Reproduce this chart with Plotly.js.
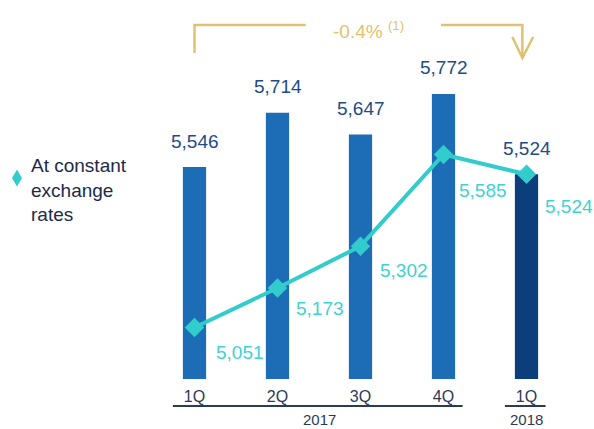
<!DOCTYPE html>
<html><head><meta charset="utf-8">
<script src="https://cdn.plot.ly/plotly-3.0.1.min.js"></script>
<style>html,body{margin:0;padding:0;background:#fff}</style>
</head><body><div id="chart" style="width:594px;height:429px"></div>
<script>
// ---- data ----
const quarters = ['1Q', '2Q', '3Q', '4Q', '1Q'];
const years = ['2017', '2017', '2017', '2017', '2018'];
const reported = [5546, 5714, 5647, 5772, 5524];
const constantFx = [5051, 5173, 5302, 5585, 5524];
const changeText = '-0.4%';
const changeNote = '(1)';
const seriesName = 'At constant<br>exchange<br>rates';

// ---- style / layout helpers ----
const idx = quarters.map((_, i) => i);
const fmt = v => v.toLocaleString('en-US');
const barColors = years.map(y => y === '2018' ? '#0b3e7b' : '#1c6db5');
const teal = '#33cccc';
const gold = '#dfc271';
const navy = '#1d4c88';
const axisInk = '#2b3a56';
const FONT = 'Liberation Sans, Arial, sans-serif';
// label offsets (px right, px down) for the teal values
const lineLabelShift = [[45, 25], [42, 21], [43, 24], [39, 36], [42, 32]];

const barTrace = {
  type: 'bar', x: idx, y: reported, width: 0.28,
  marker: {color: barColors}, showlegend: false, hoverinfo: 'y'
};
const lineTrace = {
  type: 'scatter', mode: 'lines+markers', x: idx, y: constantFx, name: seriesName,
  line: {color: teal, width: 4},
  marker: {symbol: 'diamond', size: 15, color: teal},
  showlegend: false, hoverinfo: 'y'
};

const annotations = [];
reported.forEach((v, i) => annotations.push({
  x: i, y: v, text: fmt(v), showarrow: false, yanchor: 'middle', yshift: 26,
  font: {family: FONT, size: 19, color: navy}
}));
constantFx.forEach((v, i) => annotations.push({
  x: i, y: v, text: fmt(v), showarrow: false, xanchor: 'center', yanchor: 'middle',
  xshift: lineLabelShift[i][0], yshift: -lineLabelShift[i][1],
  font: {family: FONT, size: 19, color: '#3fd2d2'}
}));
// year group labels
const groups = [...new Set(years)].map(y => {
  const members = idx.filter(i => years[i] === y);
  return {year: y, first: members[0], last: members[members.length - 1]};
});
const shapes = [];
groups.forEach(g => {
  annotations.push({
    x: (g.first + g.last) / 2, xref: 'x', y: 0, yref: 'paper', yshift: -40,
    yanchor: 'middle', showarrow: false, text: g.year,
    font: {family: FONT, size: 15, color: axisInk}
  });
  shapes.push({
    type: 'line', xref: 'x', yref: 'paper', ysizemode: 'pixel', yanchor: 0,
    x0: g.first - 0.26, x1: g.last + 0.23, y0: -27, y1: -27,
    line: {color: axisInk, width: 2}
  });
});
// legend key (drawn as a keyed label at the left)
annotations.push({
  xref: 'paper', x: 0, xshift: -124, xanchor: 'left',
  yref: 'paper', y: 0.512, yanchor: 'middle', align: 'left', showarrow: false,
  text: seriesName, font: {family: FONT, size: 19, color: '#1b2a4a'}
});
shapes.push({
  type: 'path', xref: 'paper', yref: 'paper', xsizemode: 'pixel', ysizemode: 'pixel',
  xanchor: 0, yanchor: 0,
  path: 'M -136,209.5 L -131,201 L -136,192.5 L -141,201 Z',
  fillcolor: teal, line: {width: 0}
});
// change bracket from first to last period
const x0 = idx[0], x1 = idx[idx.length - 1];
annotations.push({
  x: (x0 + x1) / 2, y: 1, yref: 'paper', yshift: -20, xshift: 8,
  showarrow: false, yanchor: 'middle',
  text: changeText + ' <sup>' + changeNote + '</sup>',
  font: {family: FONT, size: 19, color: gold}
});
const bracketBase = {type: 'path', xref: 'x', yref: 'paper', ysizemode: 'pixel', yanchor: 1,
  line: {color: gold, width: 2.5}};
shapes.push(Object.assign({}, bracketBase, {path: `M ${x0},-43 L ${x0},-15 L ${x0 + 1.34},-15`}));
shapes.push(Object.assign({}, bracketBase, {path: `M ${x1 - 1.03},-15 L ${x1 - 0.05},-15 L ${x1 - 0.05},-48`}));
shapes.push(Object.assign({}, bracketBase, {path: `M ${x1 - 0.17},-27 L ${x1 - 0.05},-48 L ${x1 + 0.08},-27`}));

const layout = {
  width: 594, height: 429,
  margin: {l: 153, r: 26, t: 10, b: 50},
  paper_bgcolor: '#fff', plot_bgcolor: '#fff',
  font: {family: FONT},
  xaxis: {
    range: [-0.5, 4.5], tickvals: idx, ticktext: quarters, showgrid: false,
    zeroline: false, showline: false, ticks: '', ticklabelstandoff: 6,
    tickfont: {size: 16, color: axisInk}, fixedrange: true
  },
  yaxis: {
    range: [4892, 6031], visible: false, showgrid: false, zeroline: false, fixedrange: true
  },
  showlegend: false,
  annotations: annotations, shapes: shapes
};

Plotly.newPlot('chart', [barTrace, lineTrace], layout, {displayModeBar: false, staticPlot: true});
</script></body></html>
